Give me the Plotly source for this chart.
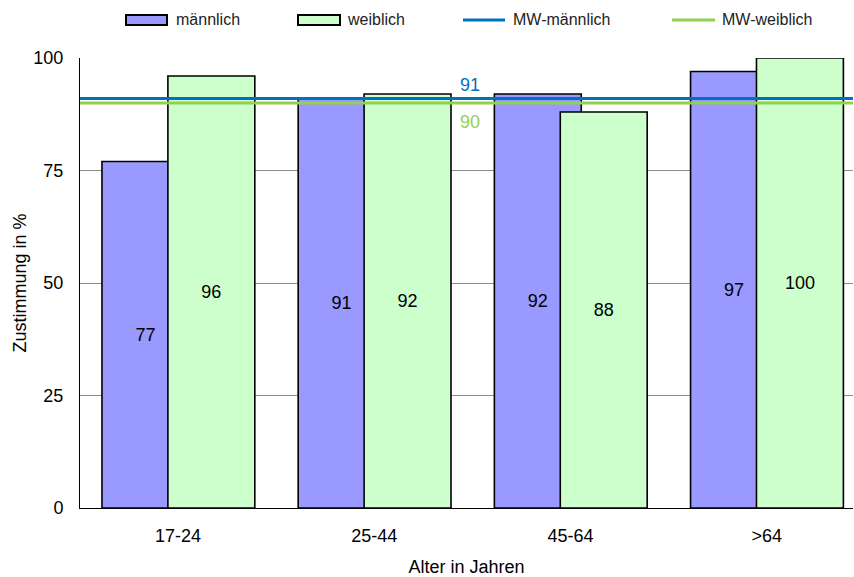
import plotly.graph_objects as go

# Data
categories = ["17-24", "25-44", "45-64", ">64"]
maennlich = [77, 91, 92, 97]
weiblich = [96, 92, 88, 100]
mw_maennlich = 91
mw_weiblich = 90

# Styling
C_M = "#9999FF"
C_W = "#CCFFCC"
C_MW_M = "#0070C0"
C_MW_W = "#92D050"
FONT = "Liberation Sans, Arial, sans-serif"

W, H = 854, 577
ML, MR, MT, MB = 80, 1, 58, 69
PW = W - ML - MR

BAR_W = 0.443

fig = go.Figure()

fig.add_trace(go.Bar(
    x=categories, y=maennlich, name="männlich",
    width=BAR_W, offset=-0.388,
    marker=dict(color=C_M, line=dict(color="black", width=1.6)),
    text=[str(v) for v in maennlich], textposition="inside",
    insidetextanchor="middle", textangle=0,
    textfont=dict(family=FONT, size=18, color="black"),
    showlegend=False,
))
fig.add_trace(go.Bar(
    x=categories, y=weiblich, name="weiblich",
    width=BAR_W, offset=-0.052,
    marker=dict(color=C_W, line=dict(color="black", width=1.6)),
    text=[str(v) for v in weiblich], textposition="inside",
    insidetextanchor="middle", textangle=0,
    textfont=dict(family=FONT, size=18, color="black"),
    showlegend=False,
))

# Mean lines across the full plot width, placed on the y scale
fig.add_hline(y=mw_maennlich, line=dict(color=C_MW_M, width=3), layer="above")
fig.add_hline(y=mw_weiblich, line=dict(color=C_MW_W, width=3), layer="above")

fig.add_annotation(x=1.49, y=mw_maennlich, xref="x", yref="y", text=str(mw_maennlich),
                   showarrow=False, yshift=14, font=dict(family=FONT, size=18, color=C_MW_M))
fig.add_annotation(x=1.49, y=mw_weiblich, xref="x", yref="y", text=str(mw_weiblich),
                   showarrow=False, yshift=-19, font=dict(family=FONT, size=18, color=C_MW_W))


def px_x(p):
    return (p - ML) / PW


def px_y(p):
    return 1 - (p - MT) / (H - MT - MB)


# Legend row drawn above the plot
legend_y = 20
box_items = [(126, 167, C_M, "männlich", 174), (298, 340, C_W, "weiblich", 345)]
for x0, x1, col, label, tx in box_items:
    fig.add_shape(type="rect", xref="paper", yref="paper",
                  x0=px_x(x0), x1=px_x(x1), y0=px_y(legend_y + 5), y1=px_y(legend_y - 5),
                  fillcolor=col, line=dict(color="black", width=2))
    fig.add_annotation(x=px_x(tx), y=px_y(legend_y), xref="paper", yref="paper",
                       text=label, showarrow=False, xanchor="left", yanchor="middle",
                       font=dict(family=FONT, size=16, color="#222"))
line_items = [(463, 505, C_MW_M, "MW-männlich", 511), (672, 715, C_MW_W, "MW-weiblich", 720)]
for x0, x1, col, label, tx in line_items:
    fig.add_shape(type="line", xref="paper", yref="paper",
                  x0=px_x(x0), x1=px_x(x1), y0=px_y(legend_y), y1=px_y(legend_y),
                  line=dict(color=col, width=3))
    fig.add_annotation(x=px_x(tx), y=px_y(legend_y), xref="paper", yref="paper",
                       text=label, showarrow=False, xanchor="left", yanchor="middle",
                       font=dict(family=FONT, size=16, color="#222"))

fig.update_layout(
    width=W, height=H,
    margin=dict(l=ML, r=MR, t=MT, b=MB),
    paper_bgcolor="white", plot_bgcolor="white",
    barmode="overlay",
    font=dict(family=FONT, size=18, color="black"),
    showlegend=False,
    xaxis=dict(
        type="category", categoryorder="array", categoryarray=categories,
        range=[-0.5, 3.44], showgrid=False, showline=True, linecolor="black",
        linewidth=1, ticks="", ticklabelstandoff=11,
        tickfont=dict(family=FONT, size=18, color="black"),
        title=dict(text="Alter in Jahren", standoff=16,
                   font=dict(family=FONT, size=18, color="black")),
    ),
    yaxis=dict(
        range=[0, 100], tickvals=[0, 25, 50, 75, 100], showgrid=True,
        gridcolor="#8C8C8C", gridwidth=1, showline=True, linecolor="black",
        linewidth=1, zeroline=False, ticks="", ticklabelstandoff=12,
        tickfont=dict(family=FONT, size=18, color="black"),
        title=dict(text="Zustimmung in %", standoff=2,
                   font=dict(family=FONT, size=18, color="black")),
    ),
)

fig.write_html("out.html")
